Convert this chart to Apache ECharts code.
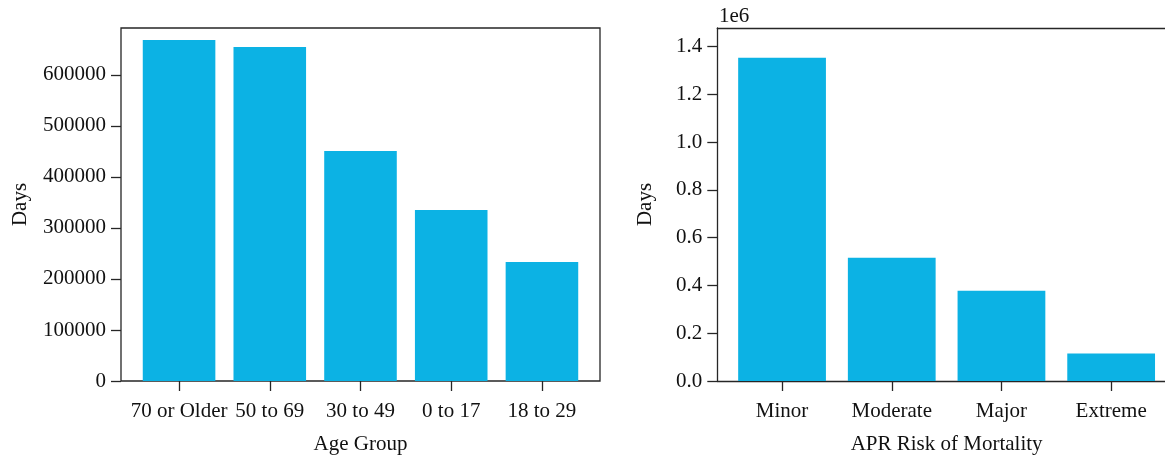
<!DOCTYPE html>
<html>
<head>
<meta charset="utf-8">
<script src="https://cdn.jsdelivr.net/npm/echarts@6/dist/echarts.min.js"></script>
<style>html,body{margin:0;padding:0;background:#fff;}#c{width:1165px;height:458px;}</style>
</head>
<body>
<div id="c"></div>
<script>
const ageGroups = ['70 or Older', '50 to 69', '30 to 49', '0 to 17', '18 to 29'];
const ageDays = [668600, 654900, 451000, 335300, 233300];
const leftTicks = [0, 100000, 200000, 300000, 400000, 500000, 600000];

const riskLevels = ['Minor', 'Moderate', 'Major', 'Extreme'];
const riskDays = [1352700, 516000, 378000, 114600];
const rightTicks = [0, 200000, 400000, 600000, 800000, 1000000, 1200000, 1400000];

const FONT = 'Liberation Serif';
const TXT = '#111111';
const LINE = '#262626';
const BAR = '#0cb2e4';
const FS = 21;

const chart = echarts.init(document.getElementById('c'), null, {renderer: 'canvas'});

const gTop = 28, gHeight = 353;
const fL = {left: 121, width: 479};
const fR = {left: 717.3, width: 447.7};
const pL = {left: 133.7, width: 453.6};
const pR = {left: 727.2, width: 438.8};

const frameLine = {show: true, onZero: false, lineStyle: {color: LINE, width: 1.3}};
const hiddenParts = {axisTick: {show: false}, axisLabel: {show: false}, splitLine: {show: false}};
const gridBase = {top: gTop, height: gHeight, outerBoundsMode: 'none', containLabel: false};

chart.setOption({
  backgroundColor: '#fff',
  animation: false,
  textStyle: {fontFamily: FONT, color: TXT},
  title: {
    text: '1e6', left: 714, top: 1,
    textStyle: {fontFamily: FONT, fontSize: FS, fontWeight: 'normal', color: TXT}
  },
  grid: [
    Object.assign({left: fL.left, width: fL.width, show: true, borderColor: LINE, borderWidth: 1.3, backgroundColor: 'transparent'}, gridBase),
    Object.assign({left: fR.left, width: fR.width}, gridBase),
    Object.assign({left: pL.left, width: pL.width}, gridBase),
    Object.assign({left: pR.left, width: pR.width}, gridBase)
  ],
  xAxis: [
    {gridIndex: 0, type: 'value', show: false, min: 0, max: 1},
    Object.assign({gridIndex: 1, type: 'value', min: 0, max: 1, position: 'top', axisLine: frameLine}, hiddenParts),
    {
      gridIndex: 2, type: 'category', data: ageGroups,
      name: 'Age Group', nameLocation: 'middle', nameGap: 53,
      nameTextStyle: {fontFamily: FONT, fontSize: FS, color: TXT},
      axisLine: {show: false},
      axisTick: {show: true, alignWithLabel: true, length: 10, lineStyle: {color: LINE, width: 1.3}},
      axisLabel: {fontFamily: FONT, fontSize: FS, color: TXT, margin: 20, interval: 0},
      splitLine: {show: false}
    },
    {
      gridIndex: 3, type: 'category', data: riskLevels,
      name: 'APR Risk of Mortality', nameLocation: 'middle', nameGap: 53,
      nameTextStyle: {fontFamily: FONT, fontSize: FS, color: TXT},
      axisLine: {show: false},
      axisTick: {show: true, alignWithLabel: true, length: 10, lineStyle: {color: LINE, width: 1.3}},
      axisLabel: {fontFamily: FONT, fontSize: FS, color: TXT, margin: 20, interval: 0},
      splitLine: {show: false}
    },
    Object.assign({gridIndex: 1, type: 'value', min: 0, max: 1, position: 'bottom', axisLine: frameLine}, hiddenParts)
  ],
  yAxis: [
    {gridIndex: 0, type: 'value', show: false, min: 0, max: 1},
    Object.assign({gridIndex: 1, type: 'value', min: 0, max: 1, position: 'left', axisLine: frameLine}, hiddenParts),
    {
      gridIndex: 2, type: 'value', min: 0, max: 692000, offset: pL.left - fL.left,
      name: 'Days', nameLocation: 'middle', nameGap: 90,
      nameTextStyle: {fontFamily: FONT, fontSize: FS, color: TXT},
      axisLine: {show: false},
      axisTick: {show: true, length: 10, customValues: leftTicks, lineStyle: {color: LINE, width: 1.3}},
      axisLabel: {fontFamily: FONT, fontSize: FS, color: TXT, margin: 15, customValues: leftTicks,
        formatter: v => String(v)},
      splitLine: {show: false}
    },
    {
      gridIndex: 3, type: 'value', min: 0, max: 1477000, offset: pR.left - fR.left,
      name: 'Days', nameLocation: 'middle', nameGap: 61,
      nameTextStyle: {fontFamily: FONT, fontSize: FS, color: TXT},
      axisLine: {show: false},
      axisTick: {show: true, length: 10, customValues: rightTicks, lineStyle: {color: LINE, width: 1.3}},
      axisLabel: {fontFamily: FONT, fontSize: FS, color: TXT, margin: 15, customValues: rightTicks,
        formatter: v => (v / 1e6).toFixed(1)},
      splitLine: {show: false}
    }
  ],
  series: [
    {type: 'bar', xAxisIndex: 2, yAxisIndex: 2, data: ageDays, barCategoryGap: '20%', itemStyle: {color: BAR}},
    {type: 'bar', xAxisIndex: 3, yAxisIndex: 3, data: riskDays, barCategoryGap: '20%', itemStyle: {color: BAR}}
  ]
});
</script>
</body>
</html>
